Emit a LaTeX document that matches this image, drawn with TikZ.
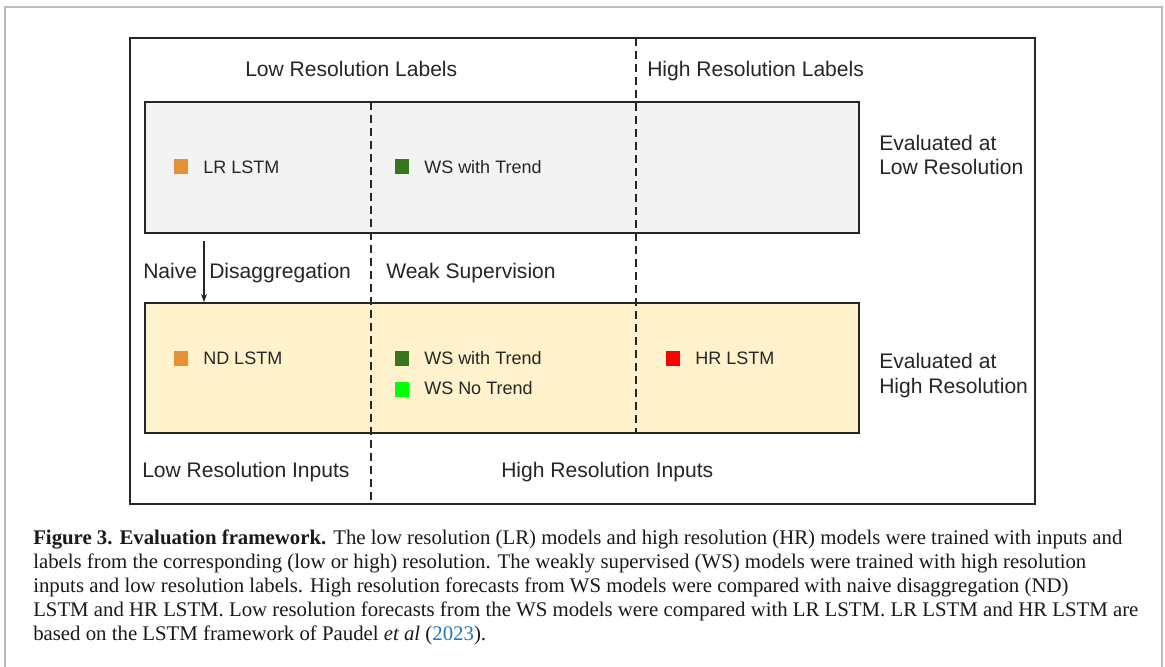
\documentclass[tikz,border=0pt]{standalone}
\usepackage{fontspec}
\setmainfont{Liberation Serif}
\newfontfamily\arialf{Liberation Sans}
\usetikzlibrary{arrows.meta}
\definecolor{lowgray}{HTML}{F3F3F3}
\definecolor{hiyellow}{HTML}{FFF2CC}
\definecolor{mkorange}{HTML}{E69138}
\definecolor{mkdgreen}{HTML}{38761D}
\definecolor{mklgreen}{HTML}{00FF00}
\definecolor{mkred}{HTML}{FF0000}
\definecolor{edgegray}{HTML}{BDBDBD}
\definecolor{linkblue}{RGB}{30,120,190}
\definecolor{inkdark}{HTML}{262626}
\begin{document}
\begin{tikzpicture}[x=0.75pt,y=-0.75pt,
  lbl/.style={font=\arialf\fontsize{15.8}{18}\selectfont, text=inkdark, anchor=base west, inner sep=0pt},
  mdl/.style={font=\arialf\fontsize{13.5}{16}\selectfont, text=inkdark, anchor=base west, inner sep=0pt},
  marker/.style={minimum width=10.5pt, minimum height=11.25pt, inner sep=0pt, draw=none},
  panel/.style={draw=inkdark, line width=1.5pt, inner sep=0pt},
  dashline/.style={draw=inkdark, line width=1.5pt, dash pattern=on 6pt off 3.75pt},
  captxt/.style={font=\fontsize{15.6}{18}\selectfont, text=black!90, anchor=base west, inner sep=0pt}
]
\useasboundingbox[fill=white] (0,0) rectangle (1165,667);
% outer light frame (open at bottom)
\draw[edgegray, line width=1.2pt] (5,667) -- (5,7) -- (1162,7) -- (1162,667);
% inner frame
\node[draw=inkdark, line width=2pt, minimum width=678.75pt, minimum height=349.5pt, inner sep=0pt] (frame) at (582.5,271) {};
% panels
\node[panel, fill=lowgray, minimum width=535.5pt, minimum height=98.25pt] (lowbox) at (502,167.5) {};
\node[panel, fill=hiyellow, minimum width=535.5pt, minimum height=97.5pt] (highbox) at (502,368) {};
% dashed separators
\draw[dashline] (371,102) -- (371,504);
\draw[dashline] (636,38) -- (636,433);
% header labels
\node[lbl] (lrlabels) at (245,76.5) {Low Resolution Labels};
\node[lbl] (hrlabels) at (647,76.5) {High Resolution Labels};
% top panel entries
\node[marker, fill=mkorange] (mlr) at (181,166.5) {};
\node[mdl] (lrlstm) at (203,173.5) {LR LSTM};
\node[marker, fill=mkdgreen] (mws1) at (402,166.5) {};
\node[mdl] (ws1) at (424,173.5) {WS with Trend};
\node[lbl] (evlow1) at (879,150.5) {Evaluated at};
\node[lbl] (evlow2) at (879,174.5) {Low Resolution};
% middle labels
\node[lbl] (naive) at (143,278.5) {Naive};
\node[lbl] (disagg) at (209,278.5) {Disaggregation};
\node[lbl] (weaksup) at (386,278.5) {Weak Supervision};
\coordinate (arrstart) at (204,241);
\draw[-{Stealth[length=6pt,width=4.5pt]}, line width=0.8pt, inkdark] (arrstart) -- (arrstart |- highbox.north);
% bottom panel entries
\node[marker, fill=mkorange] (mnd) at (181,358) {};
\node[mdl] (ndlstm) at (203,364.5) {ND LSTM};
\node[marker, fill=mkdgreen] (mws2) at (402,358) {};
\node[mdl] (ws2) at (424,364.5) {WS with Trend};
\node[marker, fill=mklgreen] (mws3) at (402,389.5) {};
\node[mdl] (ws3) at (424,394.5) {WS No Trend};
\node[marker, fill=mkred] (mhr) at (673,358) {};
\node[mdl] (hrlstm) at (695,364.5) {HR LSTM};
\node[lbl] (evhigh1) at (879,368.5) {Evaluated at};
\node[lbl] (evhigh2) at (879,393.5) {High Resolution};
% bottom labels
\node[lbl] (lrinputs) at (142,477) {Low Resolution Inputs};
\node[lbl] (hrinputs) at (501,477) {High Resolution Inputs};
% caption
\node[captxt] (cap1) at (33,544) {\textbf{Figure 3. Evaluation framework.} The low resolution (LR) models and high resolution (HR) models were trained with inputs and};
\node[captxt] (cap2) at (33,568) {labels from the corresponding (low or high) resolution. The weakly supervised (WS) models were trained with high resolution};
\node[captxt] (cap3) at (33,592) {inputs and low resolution labels. High resolution forecasts from WS models were compared with naive disaggregation (ND)};
\node[captxt] (cap4) at (33,616) {LSTM and HR LSTM. Low resolution forecasts from the WS models were compared with LR LSTM. LR LSTM and HR LSTM are};
\node[captxt] (cap5) at (33,640) {based on the LSTM framework of Paudel \textit{et al} (\textcolor{linkblue}{2023}).};
\end{tikzpicture}
\end{document}
